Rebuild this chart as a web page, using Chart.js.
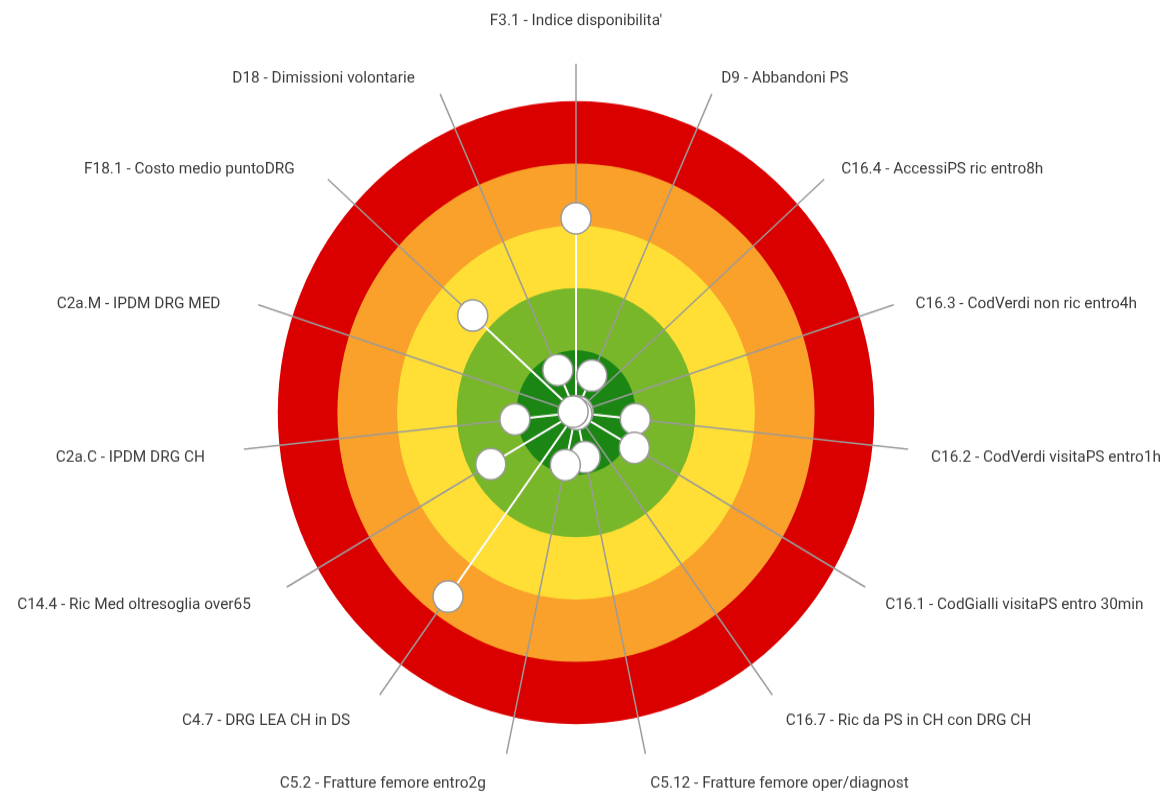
<!DOCTYPE html>
<html>
<head>
<meta charset="utf-8">
<title>Bersaglio</title>
<script src="https://cdn.jsdelivr.net/npm/chart.js@4.4.1/dist/chart.umd.min.js"></script>
<style>
  html, body { margin: 0; padding: 0; background: #ffffff; }
  #bersaglio { display: block; }
</style>
</head>
<body>
<canvas id="bersaglio" width="1168" height="762" style="width:1168px;height:796px"></canvas>
<script>
// indicatori, in senso orario partendo dall'alto
var indicatori = [
    "F3.1 - Indice disponibilita'",
    'D9 - Abbandoni PS',
    'C16.4 - AccessiPS ric entro8h',
    'C16.3 - CodVerdi non ric entro4h',
    'C16.2 - CodVerdi visitaPS entro1h',
    'C16.1 - CodGialli visitaPS entro 30min',
    'C16.7 - Ric da PS in CH con DRG CH',
    'C5.12 - Fratture femore oper/diagnost',
    'C5.2 - Fratture femore entro2g',
    'C4.7 - DRG LEA CH in DS',
    'C14.4 - Ric Med oltresoglia over65',
    'C2a.C - IPDM DRG CH',
    'C2a.M - IPDM DRG MED',
    'F18.1 - Costo medio puntoDRG',
    'D18 - Dimissioni volontarie'
];

// distanza dal centro: 0 = ottimo, 5 = pessimo
var punteggi = [3.12, 0.65, 0.03, 0.04, 1.0, 1.13, 0.03, 0.73, 0.86, 3.65, 1.65, 1.03, 0.05, 2.33, 0.75];

// fasce del bersaglio (limite esterno di ogni fascia)
var fasce = [5, 4, 3, 2, 1];
var coloriFasce = ['#da0000', '#f9a12b', '#ffdf35', '#78b72a', '#1b8614'];

var fondoScala = 5.6;

// disegna i cerchi colorati sotto gli assi
var cerchi = {
    id: 'cerchi',
    beforeDraw: function (chart) {
        var r = chart.scales.r;
        var c = chart.ctx;
        c.save();
        fasce.forEach(function (v, i) {
            c.beginPath();
            c.arc(r.xCenter, r.yCenter, r.getDistanceFromCenterForValue(v), 0, Math.PI * 2);
            c.fillStyle = coloriFasce[i];
            c.fill();
        });
        c.restore();
    }
};

// raggi bianchi dal centro ai punti
var raggi = {
    id: 'raggi',
    beforeDatasetsDraw: function (chart) {
        var r = chart.scales.r;
        var c = chart.ctx;
        var meta = chart.getDatasetMeta(0);
        c.save();
        c.strokeStyle = '#ffffff';
        c.lineWidth = 2;
        meta.data.forEach(function (p) {
            c.beginPath();
            c.moveTo(r.xCenter, r.yCenter);
            c.lineTo(p.x, p.y);
            c.stroke();
        });
        c.restore();
    }
};

// etichette degli indicatori in fondo a ogni asse
var etichette = {
    id: 'etichette',
    afterDraw: function (chart) {
        var r = chart.scales.r;
        var c = chart.ctx;
        c.save();
        c.font = '15.4px Roboto';
        c.fillStyle = '#3c3c3c';
        c.textBaseline = 'middle';
        r._pointLabels.forEach(function (testo, i) {
            var pos = r.getPointPosition(i, r.drawingArea + 23);
            var gradi = Math.round(r.getIndexAngle(i) * 180 / Math.PI) % 360;
            var x = pos.x;
            var y = pos.y + 6;
            if (gradi === 0) {
                c.textAlign = 'center';
                y = pos.y - 18;
            } else if (gradi < 180) {
                c.textAlign = 'left';
            } else {
                c.textAlign = 'right';
                x -= 16;
            }
            c.fillText(testo, x, y);
        });
        c.restore();
    }
};

var ctx = document.getElementById('bersaglio');
var bersaglio = new Chart(ctx, {
    type: 'radar',
    data: {
        labels: indicatori,
        datasets: [{
            label: 'Valutazione',
            data: punteggi,
            borderColor: 'transparent',
            backgroundColor: 'transparent',
            borderWidth: 0,
            fill: false,
            pointRadius: 15,
            pointHoverRadius: 15,
            pointBackgroundColor: '#ffffff',
            pointBorderColor: '#9a9a9a',
            pointBorderWidth: 1.5
        }]
    },
    options: {
        responsive: false,
        animation: false,
        layout: { padding: { left: 0, right: 16, top: 61, bottom: 33 } },
        plugins: {
            legend: { display: false },
            tooltip: { enabled: false }
        },
        scales: {
            r: {
                min: 0,
                max: fondoScala,
                ticks: { display: false },
                grid: { display: false },
                angleLines: { color: '#9b9b9b', lineWidth: 1.5 },
                pointLabels: { display: false }
            }
        }
    },
    plugins: [cerchi, raggi, etichette]
});
</script>
</body>
</html>
